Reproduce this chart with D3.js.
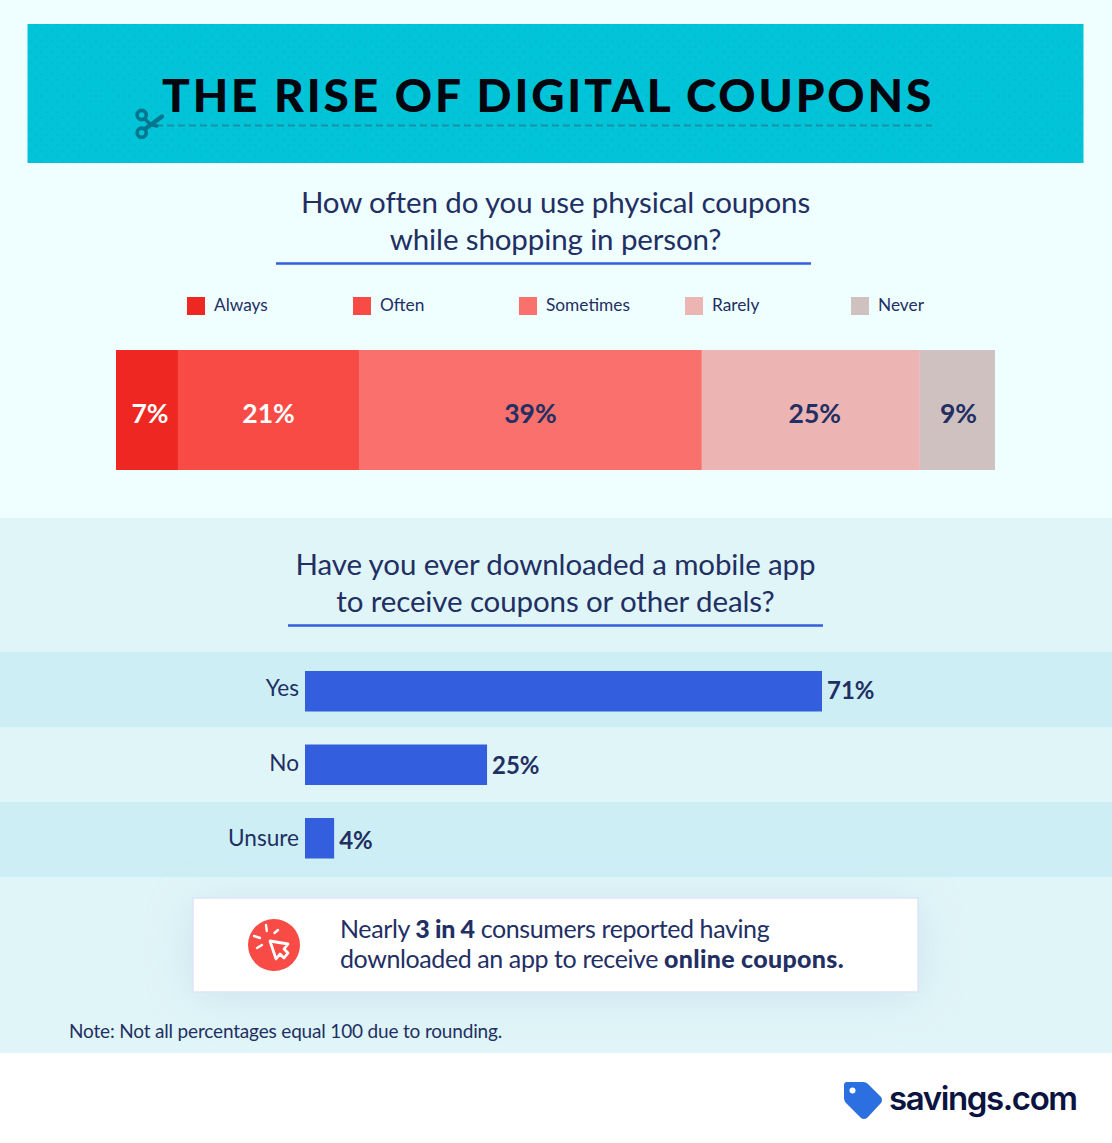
<!DOCTYPE html>
<html>
<head>
<meta charset="utf-8">
<script src="https://cdnjs.cloudflare.com/ajax/libs/d3/7.8.5/d3.min.js"></script>
<style>
html, body { margin: 0; padding: 0; background: #fff; }
svg { display: block; }
text { font-family: "Lato", sans-serif; fill: #222f63; }
</style>
</head>
<body>
<div id="chart"></div>
<script>
const WIDTH = 1112;
const HEIGHT = 1143;
const NAVY = "#222f63";
const BLUE = "#335edd";

// physical coupons stacked bar
const freqLabels = ["Always", "Often", "Sometimes", "Rarely", "Never"];
const freqValues = [7, 21, 39, 25, 9];
// unrounded shares, the labels above add up to 101
const freqShares = [7.05, 20.6, 39, 24.8, 8.55];
const freqColors = ["#ee2722", "#f84b46", "#f9706c", "#ecb4b3", "#d0c1c1"];
const freqTextColors = ["#fff", "#fff", NAVY, NAVY, NAVY];
const freqLabelNudge = [3, 0, 0, 4, 1];
const legendX = [187, 353, 519, 685, 851];

// mobile app bars
const appLabels = ["Yes", "No", "Unsure"];
const appValues = [71, 25, 4];

const svg = d3.select("#chart").append("svg")
    .attr("width", WIDTH)
    .attr("height", HEIGHT);

const defs = svg.append("defs");

// the faint dots on the banner
const dots = defs.append("pattern")
    .attr("id", "dots")
    .attr("width", 11)
    .attr("height", 11)
    .attr("patternUnits", "userSpaceOnUse");
dots.append("circle").attr("cx", 2.5).attr("cy", 2.5).attr("r", 1).attr("fill", "#0bb5cb");
dots.append("circle").attr("cx", 8).attr("cy", 8).attr("r", 1).attr("fill", "#0bb5cb");

const blur = defs.append("filter")
    .attr("id", "soft")
    .attr("x", "-20%").attr("y", "-60%")
    .attr("width", "140%").attr("height", "220%");
blur.append("feGaussianBlur").attr("stdDeviation", 22);

// backgrounds
svg.append("rect").attr("width", WIDTH).attr("height", 518).attr("fill", "#effeff");
svg.append("rect").attr("y", 518).attr("width", WIDTH).attr("height", 535).attr("fill", "#e0f5f8");

// banner
svg.append("rect").attr("x", 27.5).attr("y", 24).attr("width", 1056).attr("height", 139).attr("fill", "#02c4d8");
svg.append("rect").attr("x", 27.5).attr("y", 24).attr("width", 1056).attr("height", 139).attr("fill", "url(#dots)");

svg.append("line")
    .attr("x1", 156).attr("x2", 932)
    .attr("y1", 125.5).attr("y2", 125.5)
    .attr("stroke", "#1b8fa8")
    .attr("stroke-width", 2)
    .attr("stroke-dasharray", "7 4");

// scissors
const scissors = svg.append("g").attr("stroke", "#03768f").attr("fill", "none");
scissors.append("circle").attr("cx", 141.7).attr("cy", 115).attr("r", 4.6).attr("stroke-width", 3.6);
scissors.append("circle").attr("cx", 141.7).attr("cy", 132.7).attr("r", 4.6).attr("stroke-width", 3.6);
scissors.append("path").attr("d", "M145 129L162 116.5").attr("stroke-width", 4.4).attr("stroke-linecap", "round");
scissors.append("path").attr("d", "M145 119L151 125L157 126").attr("stroke-width", 3.4).attr("stroke-linecap", "round");

svg.append("text")
    .attr("x", 162).attr("y", 112)
    .attr("font-size", 46)
    .attr("font-weight", 900)
    .attr("letter-spacing", 2.85)
    .style("fill", "#04060f")
    .text("THE RISE OF DIGITAL COUPONS");

function heading(lines, y, ruleX1, ruleX2) {
    lines.forEach(function (line, i) {
        svg.append("text")
            .attr("x", 555.5)
            .attr("y", y + i * 37)
            .attr("text-anchor", "middle")
            .attr("font-size", 29.5)
            .attr("letter-spacing", -0.12)
            .text(line);
    });
    svg.append("line")
        .attr("x1", ruleX1).attr("x2", ruleX2)
        .attr("y1", y + 50.5).attr("y2", y + 50.5)
        .attr("stroke", BLUE)
        .attr("stroke-width", 2.6);
}

heading(["How often do you use physical coupons", "while shopping in person?"], 213, 276, 811);
heading(["Have you ever downloaded a mobile app", "to receive coupons or other deals?"], 575, 288, 823);

// legend
const legend = svg.append("g").selectAll("g")
    .data(freqLabels)
    .enter().append("g")
    .attr("transform", function (d, i) { return "translate(" + legendX[i] + ",297)"; });
legend.append("rect")
    .attr("width", 18).attr("height", 18)
    .attr("fill", function (d, i) { return freqColors[i]; });
legend.append("text")
    .attr("x", 27).attr("y", 14)
    .attr("font-size", 17.3)
    .text(function (d) { return d; });

// stacked bar
const stackX = d3.scaleLinear().domain([0, d3.sum(freqShares)]).range([116, 995]);
const cumulative = d3.cumsum(freqShares);
const segments = freqShares.map(function (v, i) {
    return { value: freqValues[i], start: cumulative[i] - v, end: cumulative[i], index: i };
});

const stack = svg.append("g").selectAll("g")
    .data(segments)
    .enter().append("g");
stack.append("rect")
    .attr("x", function (d) { return stackX(d.start); })
    .attr("y", 350)
    .attr("width", function (d) { return stackX(d.end) - stackX(d.start); })
    .attr("height", 120)
    .attr("fill", function (d) { return freqColors[d.index]; });
stack.append("text")
    .attr("x", function (d) { return (stackX(d.start) + stackX(d.end)) / 2 + freqLabelNudge[d.index]; })
    .attr("y", 423)
    .attr("text-anchor", "middle")
    .attr("font-size", 26.5)
    .attr("font-weight", 700)
    .style("fill", function (d) { return freqTextColors[d.index]; })
    .text(function (d) { return d.value + "%"; });

// horizontal bars: the striped rows are evenly spaced, the bars a little tighter
const appX = d3.scaleLinear().domain([0, 71]).range([305, 822]);
const appBand = d3.scaleBand().domain(appLabels).range([652, 877]);
const appBarY = d3.scalePoint().domain(appLabels).range([691, 838]);

svg.append("g").selectAll("rect")
    .data(appLabels)
    .enter().append("rect")
    .attr("x", 0)
    .attr("y", function (d) { return appBand(d); })
    .attr("width", WIDTH)
    .attr("height", appBand.bandwidth())
    .attr("fill", function (d, i) { return i % 2 === 0 ? "#cdeef5" : "#e0f5f8"; });

svg.append("g").selectAll("rect")
    .data(appLabels)
    .enter().append("rect")
    .attr("x", appX(0))
    .attr("y", function (d) { return appBarY(d) - 20; })
    .attr("width", function (d, i) { return appX(appValues[i]) - appX(0); })
    .attr("height", 40.5)
    .attr("fill", BLUE);

const appRows = svg.append("g").selectAll("g")
    .data(appLabels)
    .enter().append("g")
    .attr("transform", function (d) { return "translate(0," + (appBand(d) + appBand.bandwidth() / 2) + ")"; });
appRows.append("text")
    .attr("x", 299)
    .attr("y", 6.5)
    .attr("text-anchor", "end")
    .attr("font-size", 22.6)
    .text(function (d) { return d; });
appRows.append("text")
    .attr("x", function (d, i) { return appX(appValues[i]) + 5; })
    .attr("y", 9.5)
    .attr("font-size", 24)
    .attr("font-weight", 700)
    .text(function (d, i) { return appValues[i] + "%"; });

// callout box
svg.append("rect")
    .attr("x", 193).attr("y", 905).attr("width", 725).attr("height", 90)
    .attr("fill", "#bcd6e6")
    .attr("opacity", 0.6)
    .attr("filter", "url(#soft)");
svg.append("rect")
    .attr("x", 193).attr("y", 898).attr("width", 725).attr("height", 94)
    .attr("fill", "#fff")
    .attr("stroke", "#dfe4f7")
    .attr("stroke-width", 1.5);

svg.append("circle").attr("cx", 274).attr("cy", 945).attr("r", 26).attr("fill", "#f84b46");
const cursor = svg.append("g").attr("stroke", "#fff").attr("fill", "none").attr("stroke-linecap", "round");
cursor.append("path")
    .attr("d", "M270 941L288 944L284 949L288 953L284 958L280 954L276 959Z")
    .attr("stroke-width", 2.8)
    .attr("stroke-linejoin", "round");
cursor.append("path").attr("d", "M266 925L266.8 931").attr("stroke-width", 2.4);
cursor.append("path").attr("d", "M254 936L260 938").attr("stroke-width", 2.4);
cursor.append("path").attr("d", "M257 948L262 945").attr("stroke-width", 2.4);
cursor.append("path").attr("d", "M278 930L274.5 933").attr("stroke-width", 2.4);

const line1 = svg.append("text").attr("x", 340).attr("y", 938).attr("font-size", 25).attr("letter-spacing", -0.38);
line1.append("tspan").text("Nearly ");
line1.append("tspan").attr("font-weight", 900).text("3 in 4");
line1.append("tspan").text(" consumers reported having");
const line2 = svg.append("text").attr("x", 340).attr("y", 968).attr("font-size", 25).attr("letter-spacing", -0.4);
line2.append("tspan").text("downloaded an app to receive ");
line2.append("tspan").attr("font-weight", 900).attr("letter-spacing", 0.3).text("online coupons.");

svg.append("text")
    .attr("x", 69).attr("y", 1038)
    .attr("font-size", 19)
    .attr("letter-spacing", -0.17)
    .text("Note: Not all percentages equal 100 due to rounding.");

// logo
svg.append("path")
    .attr("d", "M847 1082L863 1082Q866 1082 868 1084L881 1097Q883 1100 881 1103L867 1118Q864 1120 861 1118L846 1103Q844 1101 844 1098L844 1085Q844 1082 847 1082Z")
    .attr("fill", "#2b6fe0");
svg.append("circle").attr("cx", 852.5).attr("cy", 1090.5).attr("r", 3).attr("fill", "#fff");
svg.append("text")
    .attr("x", 889).attr("y", 1110)
    .attr("font-size", 33)
    .attr("font-weight", 600)
    .attr("letter-spacing", -1.4)
    .style("font-family", "Inter, sans-serif")
    .style("fill", "#0b1440")
    .text("savings.com");
</script>
</body>
</html>
